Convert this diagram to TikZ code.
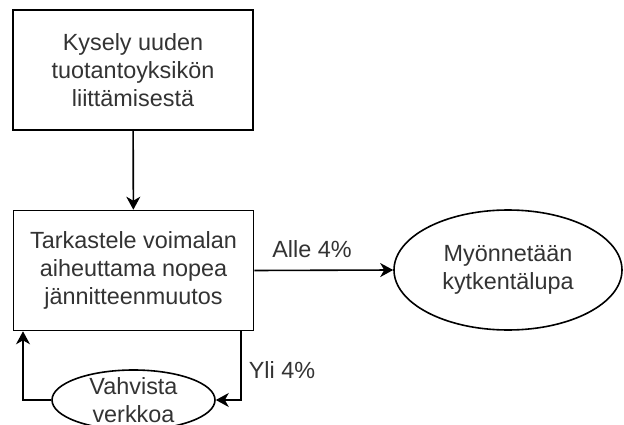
\documentclass[tikz,border=0pt]{standalone}
\usepackage{fontspec}
\setmainfont{Liberation Sans}
\usetikzlibrary{shapes.geometric,arrows.meta}
\begin{document}
\begin{tikzpicture}[x=1pt,y=-1pt,
  every node/.style={font=\fontsize{23.4}{28}\selectfont, text=black!80, align=center, inner sep=0pt},
  box/.style={draw=black, line width=1.6pt, rectangle, minimum width=240pt, minimum height=120pt},
  oval/.style={draw=black, line width=1.6pt, ellipse},
  conn/.style={draw=black, line width=1.6pt, -{Stealth[length=13pt,width=14pt,inset=4pt]}},
  lbl/.style={text=black!80}]
  \clip (0,0) rectangle (624,425);
  \fill[white] (0,0) rectangle (624,425);

  % process boxes
  \node[box] (query) at (133,70) {Kysely uuden\\tuotantoyksikön\\liittämisestä};
  \node[box] (check) at (133.5,270.5) {Tarkastele voimalan\\aiheuttama nopea\\jännitteenmuutos};

  % outcomes
  \node[oval, minimum width=228pt, minimum height=120pt] (grant) at (508,270) {Myönnetään\\kytkentälupa};
  \node[oval, minimum width=163pt, minimum height=60pt] (grid) at (133.5,400) {};
  \node (gridtext) at (133.5,400) {Vahvista\\verkkoa};

  % connectors
  \draw[conn] (query) -- (check);
  \draw[conn] (check.east) -- (grant.west);
  \node[lbl] (low) at (312,249) {Alle 4\%};

  \coordinate (yliturn) at (241,400);
  \draw[conn] (check.south -| yliturn) -- (yliturn) -- (grid.east);
  \node[lbl] (high) at (282,370) {Yli 4\%};

  \coordinate (backturn) at (23,400);
  \draw[conn] (grid.west) -- (backturn) -- (check.south -| backturn);
\end{tikzpicture}
\end{document}
